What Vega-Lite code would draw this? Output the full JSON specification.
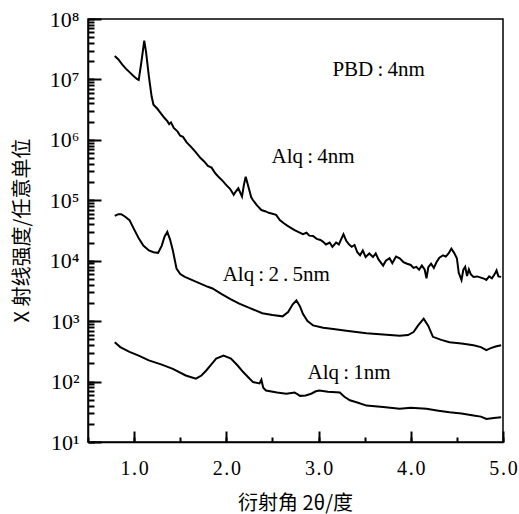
{
  "$schema": "https://vega.github.io/schema/vega-lite/v6.json",
  "autosize": {"type": "none"},
  "padding": {"left": 88, "top": 19, "right": 16, "bottom": 72},
  "width": 415,
  "height": 423,
  "background": "white",
  "config": {"view": {"stroke": "black", "strokeWidth": 1.5}},
  "datasets": {
    "curves": [
      {"s": "a", "x": 0.79, "y": 24500000}, {"s": "a", "x": 0.83, "y": 21400000}, {"s": "a", "x": 0.87, "y": 17800000},
      {"s": "a", "x": 0.91, "y": 15100000}, {"s": "a", "x": 0.95, "y": 13200000}, {"s": "a", "x": 0.99, "y": 11500000},
      {"s": "a", "x": 1.03, "y": 10200000}, {"s": "a", "x": 1.05, "y": 9800000}, {"s": "a", "x": 1.08, "y": 20000000},
      {"s": "a", "x": 1.11, "y": 44000000}, {"s": "a", "x": 1.13, "y": 28000000}, {"s": "a", "x": 1.16, "y": 11200000},
      {"s": "a", "x": 1.19, "y": 5200000}, {"s": "a", "x": 1.21, "y": 3800000}, {"s": "a", "x": 1.25, "y": 3300000},
      {"s": "a", "x": 1.29, "y": 2750000}, {"s": "a", "x": 1.33, "y": 2300000}, {"s": "a", "x": 1.36, "y": 2040000},
      {"s": "a", "x": 1.38, "y": 1820000}, {"s": "a", "x": 1.40, "y": 1950000}, {"s": "a", "x": 1.43, "y": 1580000},
      {"s": "a", "x": 1.47, "y": 1380000}, {"s": "a", "x": 1.50, "y": 1170000}, {"s": "a", "x": 1.53, "y": 1120000},
      {"s": "a", "x": 1.57, "y": 910000}, {"s": "a", "x": 1.62, "y": 760000}, {"s": "a", "x": 1.67, "y": 620000},
      {"s": "a", "x": 1.72, "y": 500000}, {"s": "a", "x": 1.76, "y": 440000}, {"s": "a", "x": 1.80, "y": 370000},
      {"s": "a", "x": 1.84, "y": 347000}, {"s": "a", "x": 1.88, "y": 280000}, {"s": "a", "x": 1.92, "y": 240000},
      {"s": "a", "x": 1.96, "y": 210000}, {"s": "a", "x": 2.00, "y": 178000}, {"s": "a", "x": 2.04, "y": 155000},
      {"s": "a", "x": 2.08, "y": 123000}, {"s": "a", "x": 2.10, "y": 138000}, {"s": "a", "x": 2.13, "y": 158000},
      {"s": "a", "x": 2.17, "y": 115000}, {"s": "a", "x": 2.19, "y": 178000}, {"s": "a", "x": 2.21, "y": 245000},
      {"s": "a", "x": 2.24, "y": 166000}, {"s": "a", "x": 2.27, "y": 112000}, {"s": "a", "x": 2.29, "y": 100000},
      {"s": "a", "x": 2.33, "y": 83000}, {"s": "a", "x": 2.38, "y": 69000}, {"s": "a", "x": 2.42, "y": 66000},
      {"s": "a", "x": 2.46, "y": 62000}, {"s": "a", "x": 2.50, "y": 60000}, {"s": "a", "x": 2.54, "y": 57500},
      {"s": "a", "x": 2.58, "y": 47000}, {"s": "a", "x": 2.62, "y": 42000}, {"s": "a", "x": 2.66, "y": 38000},
      {"s": "a", "x": 2.70, "y": 35000}, {"s": "a", "x": 2.74, "y": 32000}, {"s": "a", "x": 2.79, "y": 29500},
      {"s": "a", "x": 2.83, "y": 27500}, {"s": "a", "x": 2.87, "y": 29000}, {"s": "a", "x": 2.90, "y": 26000},
      {"s": "a", "x": 2.94, "y": 25700}, {"s": "a", "x": 2.98, "y": 23000}, {"s": "a", "x": 3.02, "y": 22000},
      {"s": "a", "x": 3.05, "y": 20500}, {"s": "a", "x": 3.08, "y": 18600}, {"s": "a", "x": 3.12, "y": 20000},
      {"s": "a", "x": 3.15, "y": 17000}, {"s": "a", "x": 3.19, "y": 20000}, {"s": "a", "x": 3.22, "y": 18600},
      {"s": "a", "x": 3.27, "y": 27500}, {"s": "a", "x": 3.30, "y": 21400}, {"s": "a", "x": 3.33, "y": 18600},
      {"s": "a", "x": 3.36, "y": 17000}, {"s": "a", "x": 3.39, "y": 18200}, {"s": "a", "x": 3.42, "y": 13800},
      {"s": "a", "x": 3.45, "y": 12300}, {"s": "a", "x": 3.48, "y": 14800}, {"s": "a", "x": 3.51, "y": 11500},
      {"s": "a", "x": 3.55, "y": 13200}, {"s": "a", "x": 3.59, "y": 11500}, {"s": "a", "x": 3.62, "y": 13200},
      {"s": "a", "x": 3.65, "y": 10500}, {"s": "a", "x": 3.70, "y": 8300}, {"s": "a", "x": 3.73, "y": 10000},
      {"s": "a", "x": 3.77, "y": 11000}, {"s": "a", "x": 3.80, "y": 9100}, {"s": "a", "x": 3.84, "y": 11700},
      {"s": "a", "x": 3.88, "y": 11000}, {"s": "a", "x": 3.92, "y": 9500}, {"s": "a", "x": 3.96, "y": 8900},
      {"s": "a", "x": 4.00, "y": 8500}, {"s": "a", "x": 4.03, "y": 7600}, {"s": "a", "x": 4.06, "y": 7900},
      {"s": "a", "x": 4.09, "y": 7100}, {"s": "a", "x": 4.12, "y": 8300}, {"s": "a", "x": 4.15, "y": 7200},
      {"s": "a", "x": 4.17, "y": 5100}, {"s": "a", "x": 4.19, "y": 7800}, {"s": "a", "x": 4.22, "y": 8900},
      {"s": "a", "x": 4.25, "y": 7600}, {"s": "a", "x": 4.28, "y": 9500}, {"s": "a", "x": 4.31, "y": 11200},
      {"s": "a", "x": 4.35, "y": 12300}, {"s": "a", "x": 4.38, "y": 11700}, {"s": "a", "x": 4.41, "y": 13200},
      {"s": "a", "x": 4.44, "y": 15800}, {"s": "a", "x": 4.47, "y": 13500}, {"s": "a", "x": 4.50, "y": 11000},
      {"s": "a", "x": 4.52, "y": 6300}, {"s": "a", "x": 4.55, "y": 4800}, {"s": "a", "x": 4.57, "y": 7100},
      {"s": "a", "x": 4.59, "y": 7900}, {"s": "a", "x": 4.61, "y": 5600}, {"s": "a", "x": 4.63, "y": 7200},
      {"s": "a", "x": 4.65, "y": 6000}, {"s": "a", "x": 4.68, "y": 5400}, {"s": "a", "x": 4.72, "y": 5500},
      {"s": "a", "x": 4.76, "y": 5250}, {"s": "a", "x": 4.80, "y": 5000}, {"s": "a", "x": 4.82, "y": 4800},
      {"s": "a", "x": 4.85, "y": 5500}, {"s": "a", "x": 4.88, "y": 5100}, {"s": "a", "x": 4.91, "y": 6000},
      {"s": "a", "x": 4.93, "y": 6900}, {"s": "a", "x": 4.95, "y": 5500}, {"s": "a", "x": 4.98, "y": 5400},

      {"s": "b", "x": 0.79, "y": 55000}, {"s": "b", "x": 0.83, "y": 59000}, {"s": "b", "x": 0.86, "y": 59000},
      {"s": "b", "x": 0.90, "y": 54000}, {"s": "b", "x": 0.95, "y": 47000}, {"s": "b", "x": 1.00, "y": 33000},
      {"s": "b", "x": 1.05, "y": 23500}, {"s": "b", "x": 1.10, "y": 17800}, {"s": "b", "x": 1.16, "y": 14800},
      {"s": "b", "x": 1.21, "y": 13800}, {"s": "b", "x": 1.26, "y": 13500}, {"s": "b", "x": 1.30, "y": 17800},
      {"s": "b", "x": 1.33, "y": 25000}, {"s": "b", "x": 1.36, "y": 30000}, {"s": "b", "x": 1.39, "y": 22400},
      {"s": "b", "x": 1.42, "y": 14800}, {"s": "b", "x": 1.46, "y": 7400}, {"s": "b", "x": 1.50, "y": 6000},
      {"s": "b", "x": 1.55, "y": 5400}, {"s": "b", "x": 1.60, "y": 5000}, {"s": "b", "x": 1.70, "y": 4300},
      {"s": "b", "x": 1.80, "y": 3700}, {"s": "b", "x": 1.85, "y": 3470}, {"s": "b", "x": 1.95, "y": 2800},
      {"s": "b", "x": 2.05, "y": 2300}, {"s": "b", "x": 2.14, "y": 1950}, {"s": "b", "x": 2.25, "y": 1660},
      {"s": "b", "x": 2.39, "y": 1350}, {"s": "b", "x": 2.50, "y": 1260}, {"s": "b", "x": 2.61, "y": 1200},
      {"s": "b", "x": 2.67, "y": 1410}, {"s": "b", "x": 2.72, "y": 1900}, {"s": "b", "x": 2.76, "y": 2200},
      {"s": "b", "x": 2.80, "y": 1740}, {"s": "b", "x": 2.83, "y": 1320}, {"s": "b", "x": 2.88, "y": 1000},
      {"s": "b", "x": 2.94, "y": 850}, {"s": "b", "x": 3.05, "y": 776}, {"s": "b", "x": 3.16, "y": 741},
      {"s": "b", "x": 3.30, "y": 692}, {"s": "b", "x": 3.52, "y": 631}, {"s": "b", "x": 3.70, "y": 603},
      {"s": "b", "x": 3.88, "y": 575}, {"s": "b", "x": 3.97, "y": 589}, {"s": "b", "x": 4.03, "y": 661},
      {"s": "b", "x": 4.08, "y": 851}, {"s": "b", "x": 4.14, "y": 1100}, {"s": "b", "x": 4.19, "y": 832},
      {"s": "b", "x": 4.24, "y": 550}, {"s": "b", "x": 4.33, "y": 490}, {"s": "b", "x": 4.42, "y": 447},
      {"s": "b", "x": 4.55, "y": 427}, {"s": "b", "x": 4.68, "y": 398}, {"s": "b", "x": 4.76, "y": 372},
      {"s": "b", "x": 4.82, "y": 331}, {"s": "b", "x": 4.86, "y": 355}, {"s": "b", "x": 4.92, "y": 380},
      {"s": "b", "x": 4.98, "y": 398},

      {"s": "c", "x": 0.79, "y": 447}, {"s": "c", "x": 0.85, "y": 372}, {"s": "c", "x": 0.95, "y": 309},
      {"s": "c", "x": 1.05, "y": 269}, {"s": "c", "x": 1.16, "y": 224}, {"s": "c", "x": 1.30, "y": 191},
      {"s": "c", "x": 1.42, "y": 162}, {"s": "c", "x": 1.56, "y": 126}, {"s": "c", "x": 1.67, "y": 112},
      {"s": "c", "x": 1.73, "y": 126}, {"s": "c", "x": 1.78, "y": 151}, {"s": "c", "x": 1.84, "y": 195},
      {"s": "c", "x": 1.89, "y": 240}, {"s": "c", "x": 1.97, "y": 269}, {"s": "c", "x": 2.05, "y": 240},
      {"s": "c", "x": 2.12, "y": 186}, {"s": "c", "x": 2.18, "y": 145}, {"s": "c", "x": 2.24, "y": 117},
      {"s": "c", "x": 2.29, "y": 98}, {"s": "c", "x": 2.36, "y": 93}, {"s": "c", "x": 2.38, "y": 107},
      {"s": "c", "x": 2.40, "y": 79}, {"s": "c", "x": 2.43, "y": 71}, {"s": "c", "x": 2.55, "y": 66},
      {"s": "c", "x": 2.65, "y": 63}, {"s": "c", "x": 2.74, "y": 66}, {"s": "c", "x": 2.80, "y": 58},
      {"s": "c", "x": 2.86, "y": 59}, {"s": "c", "x": 2.92, "y": 63}, {"s": "c", "x": 2.97, "y": 69},
      {"s": "c", "x": 3.01, "y": 71}, {"s": "c", "x": 3.10, "y": 68}, {"s": "c", "x": 3.23, "y": 66},
      {"s": "c", "x": 3.28, "y": 56}, {"s": "c", "x": 3.34, "y": 49}, {"s": "c", "x": 3.42, "y": 45},
      {"s": "c", "x": 3.52, "y": 40}, {"s": "c", "x": 3.70, "y": 38}, {"s": "c", "x": 3.88, "y": 35.5},
      {"s": "c", "x": 4.00, "y": 37}, {"s": "c", "x": 4.17, "y": 35.5}, {"s": "c", "x": 4.30, "y": 33},
      {"s": "c", "x": 4.42, "y": 31}, {"s": "c", "x": 4.55, "y": 29.5}, {"s": "c", "x": 4.68, "y": 27.5},
      {"s": "c", "x": 4.76, "y": 26.3}, {"s": "c", "x": 4.82, "y": 24}, {"s": "c", "x": 4.90, "y": 25},
      {"s": "c", "x": 4.98, "y": 25.7}
    ],
    "labels": [
      {"x": 3.15, "y": 14500000, "t": "PBD\u2009:\u20094nm"},
      {"x": 2.49, "y": 530000, "t": "Alq\u2009:\u20094nm"},
      {"x": 1.96, "y": 5700, "t": "Alq\u2009:\u20092\u2009.\u20095nm"},
      {"x": 2.88, "y": 141, "t": "Alq\u2009:\u20091nm"}
    ]
  },
  "resolve": {"axis": {"x": "independent", "y": "independent"}},
  "layer": [
    {
      "data": {"name": "curves"},
      "mark": {"type": "line", "color": "black", "strokeWidth": 2},
      "encoding": {
        "x": {
          "field": "x", "type": "quantitative",
          "scale": {"domain": [0.5, 5.0], "nice": false, "zero": false},
          "axis": {
            "orient": "bottom",
            "tickCount": 5,
            "labelExpr": "datum.value % 1 == 0 ? floor(datum.value) + '\u200a.\u200a0' : ''",
            "tickSize": -11, "tickWidth": 2, "tickColor": "black",
            "domainColor": "black", "domainWidth": 1.5,
            "gridOpacity": 0, "labelFlush": false, "labelOverlap": false,
            "labelPadding": 27,
            "labelFont": "Liberation Serif", "labelFontSize": 20, "labelColor": "black",
            "title": "衍射角 2θ/度",
            "titleFont": "Noto Sans CJK SC", "titleFontSize": 20, "titleFontWeight": "normal", "titleColor": "black",
            "titleX": 207, "titleY": 61, "titleBaseline": "middle", "titleAlign": "center"
          }
        },
        "y": {
          "field": "y", "type": "quantitative",
          "scale": {"type": "log", "domain": [10, 100000000], "nice": false},
          "axis": {
            "orient": "left",
            "tickCount": 7,
            "labelExpr": "abs(log(datum.value)/LN10 - round(log(datum.value)/LN10)) < 0.001 ? '10' + ['⁰','¹','²','³','⁴','⁵','⁶','⁷','⁸'][round(log(datum.value)/LN10)] : ''",
            "tickSize": -13, "tickWidth": 2, "tickColor": "black",
            "domainColor": "black", "domainWidth": 1.5,
            "gridOpacity": 0, "labelOverlap": false, "labelFlush": false,
            "labelPadding": 22,
            "labelFont": "Liberation Serif", "labelFontSize": 22, "labelColor": "black",
            "title": "X 射线强度/任意单位",
            "titleFont": "Noto Sans CJK SC", "titleFontSize": 20, "titleFontWeight": "normal", "titleColor": "black",
            "titleX": -66, "titleY": 211, "titleAngle": -90, "titleBaseline": "middle", "titleAlign": "center"
          }
        },
        "detail": {"field": "s"}
      }
    },
    {
      "data": {"name": "labels"},
      "mark": {"type": "text", "align": "left", "baseline": "middle", "font": "Liberation Serif", "fontSize": 21, "color": "black"},
      "encoding": {
        "x": {
          "field": "x", "type": "quantitative",
          "axis": {
            "orient": "bottom",
            "tickCount": 9,
            "labels": false, "domain": false, "gridOpacity": 0,
            "tickSize": -5, "tickWidth": 2, "tickColor": "black",
            "title": null
          }
        },
        "y": {
          "field": "y", "type": "quantitative",
          "axis": {
            "orient": "left",
            "tickCount": 20,
            "labels": false, "domain": false, "gridOpacity": 0,
            "tickSize": -6, "tickWidth": 2, "tickColor": "black",
            "title": null
          }
        },
        "text": {"field": "t"}
      }
    }
  ]
}
